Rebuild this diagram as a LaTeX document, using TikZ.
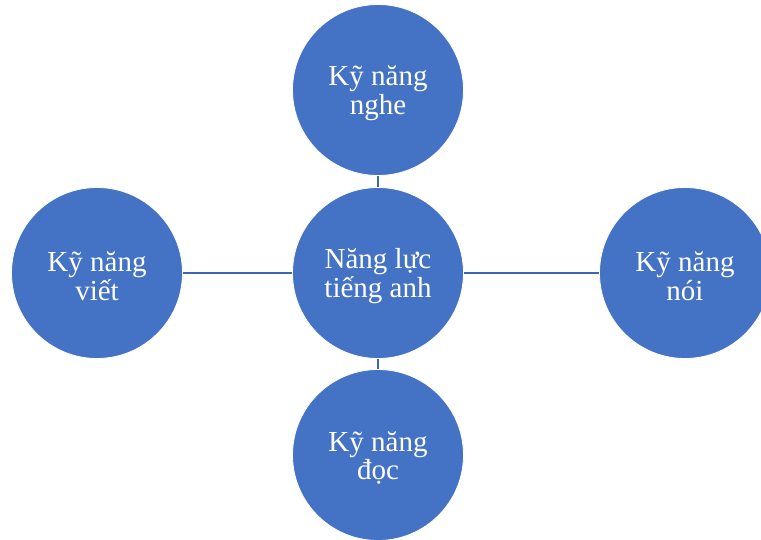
\documentclass[tikz,border=0pt]{standalone}
\usepackage{fontspec}
\setmainfont{Liberation Serif}
\definecolor{circfill}{HTML}{4472C4}
\definecolor{linecol}{HTML}{3D66B2}
\begin{document}
\begin{tikzpicture}[x=1pt,y=-1pt,
  skill/.style={circle, fill=circfill, draw=white, line width=0.8pt, minimum size=171pt, inner sep=0pt},
  lbl/.style={text=white, align=center, inner sep=0pt, font=\fontsize{29}{28.5}\selectfont},
  link/.style={draw=linecol, line width=1.8pt}]
\useasboundingbox (0,0) rectangle (761,540);
\clip (0,0) rectangle (761,540);
\node[skill] (c) at (378,273) {};
\node[skill] (t) at (378,90) {};
\node[skill] (b) at (378,455) {};
\node[skill] (l) at (97,273) {};
\node[skill] (r) at (685,273) {};
\node[lbl] (ct) at ([yshift=-3pt]c.center) {Năng lực\\tiếng anh};
\node[lbl] (tt) at ([yshift=-3pt]t.center) {Kỹ năng\\nghe};
\node[lbl] (bt) at ([yshift=-3pt]b.center) {Kỹ năng\\đọc};
\node[lbl] (lt) at ([yshift=-3pt]l.center) {Kỹ năng\\viết};
\node[lbl] (rt) at ([yshift=-3pt]r.center) {Kỹ năng\\nói};
\draw[link] (t) -- (c);
\draw[link] (c) -- (b);
\draw[link] (l) -- (c);
\draw[link] (c) -- (r);
\end{tikzpicture}
\end{document}
